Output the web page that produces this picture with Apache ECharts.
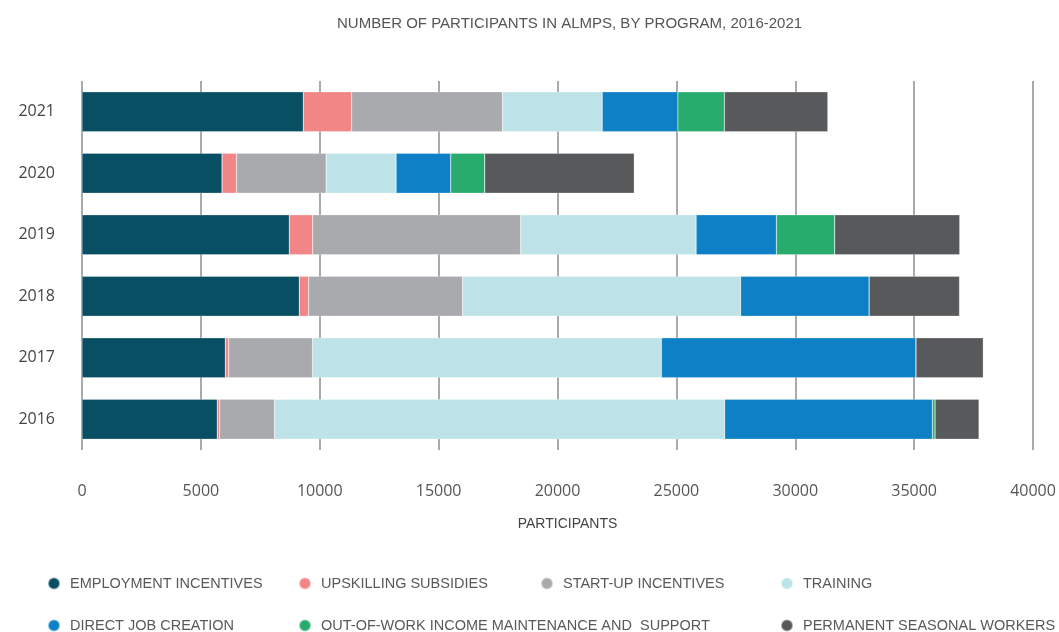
<!DOCTYPE html>
<html>
<head>
<meta charset="utf-8">
<script src="https://cdn.jsdelivr.net/npm/echarts@6/dist/echarts.min.js"></script>
<style>
  html, body { margin: 0; padding: 0; background: #fff; }
  #main { width: 1059px; height: 632px; }
</style>
</head>
<body>
<div id="main"></div>
<script>
// categories, bottom to top
const years = ['2016', '2017', '2018', '2019', '2020', '2021'];

// participants by program (same order as years)
const employmentIncentives = [5690, 6030, 9140, 8720, 5890, 9310];
const upskillingSubsidies = [100, 140, 390, 980, 610, 2030];
const startUpIncentives = [2310, 3530, 6480, 8750, 3770, 6350];
const training = [18930, 14670, 11690, 7380, 2940, 4190];
const directJobCreation = [8740, 10710, 5410, 3380, 2300, 3180];
const outOfWork = [110, 0, 0, 2450, 1430, 1960];
const permanentSeasonal = [1850, 2830, 3800, 5260, 6290, 4350];

const seriesNames = [
    'EMPLOYMENT INCENTIVES',
    'UPSKILLING SUBSIDIES',
    'START-UP INCENTIVES',
    'TRAINING',
    'DIRECT JOB CREATION',
    'OUT-OF-WORK INCOME MAINTENANCE AND  SUPPORT',
    'PERMANENT SEASONAL WORKERS'
];
const seriesData = [employmentIncentives, upskillingSubsidies, startUpIncentives,
    training, directJobCreation, outOfWork, permanentSeasonal];
const colors = ['#094f63', '#f28585', '#a9aaad', '#bde3e8', '#0d80c6', '#27ac6e', '#58595b'];

// legend item positions (left, top)
const legendPos = [[47, 576], [298, 576], [540, 576], [780, 576],
    [47, 618], [298, 618], [780, 618]];

const font = '"Liberation Sans", Arial, sans-serif';
const numFont = '"Open Sans", "Noto Sans", sans-serif';

let chart = echarts.init(document.getElementById('main'));

let option = {
    animation: false,
    color: colors,
    title: {
        text: 'NUMBER OF PARTICIPANTS IN ALMPS, BY PROGRAM, 2016-2021',
        left: 332,
        top: 11,
        textStyle: { fontFamily: font, fontSize: 15, fontWeight: 'normal', color: '#555' }
    },
    legend: seriesNames.map((name, i) => ({
        data: [name],
        left: legendPos[i][0],
        top: legendPos[i][1],
        icon: 'circle',
        itemWidth: 12,
        itemHeight: 12,
        itemGap: 0,
        padding: 0,
        selectedMode: false,
        textStyle: { fontFamily: font, fontSize: 14.5, color: '#58595b', padding: [0, 0, 0, 5] }
    })),
    grid: { left: 82, right: 26, top: 81, height: 369, containLabel: false },
    xAxis: {
        type: 'value',
        min: 0,
        max: 40000,
        interval: 5000,
        name: 'PARTICIPANTS',
        nameLocation: 'middle',
        nameGap: 67,
        nameTextStyle: { fontFamily: font, fontSize: 14, color: '#444', padding: [0, 0, 0, 20] },
        axisLine: { show: false },
        axisTick: { show: false },
        axisLabel: {
            margin: 33,
            fontFamily: numFont,
            fontSize: 16,
            color: '#555',
            formatter: v => String(v)
        },
        splitLine: { lineStyle: { color: '#a9aaad', width: 2 } }
    },
    yAxis: {
        type: 'category',
        data: years,
        axisLine: { show: false },
        axisTick: { show: false },
        axisLabel: { margin: 27, fontFamily: numFont, fontSize: 16, color: '#444' }
    },
    series: seriesNames.map((name, i) => ({
        name: name,
        type: 'bar',
        stack: 'total',
        barCategoryGap: '35%',
        data: seriesData[i],
        itemStyle: { borderColor: 'rgba(255,255,255,0.5)', borderWidth: 0.5 }
    }))
};

chart.setOption(option);
</script>
</body>
</html>
